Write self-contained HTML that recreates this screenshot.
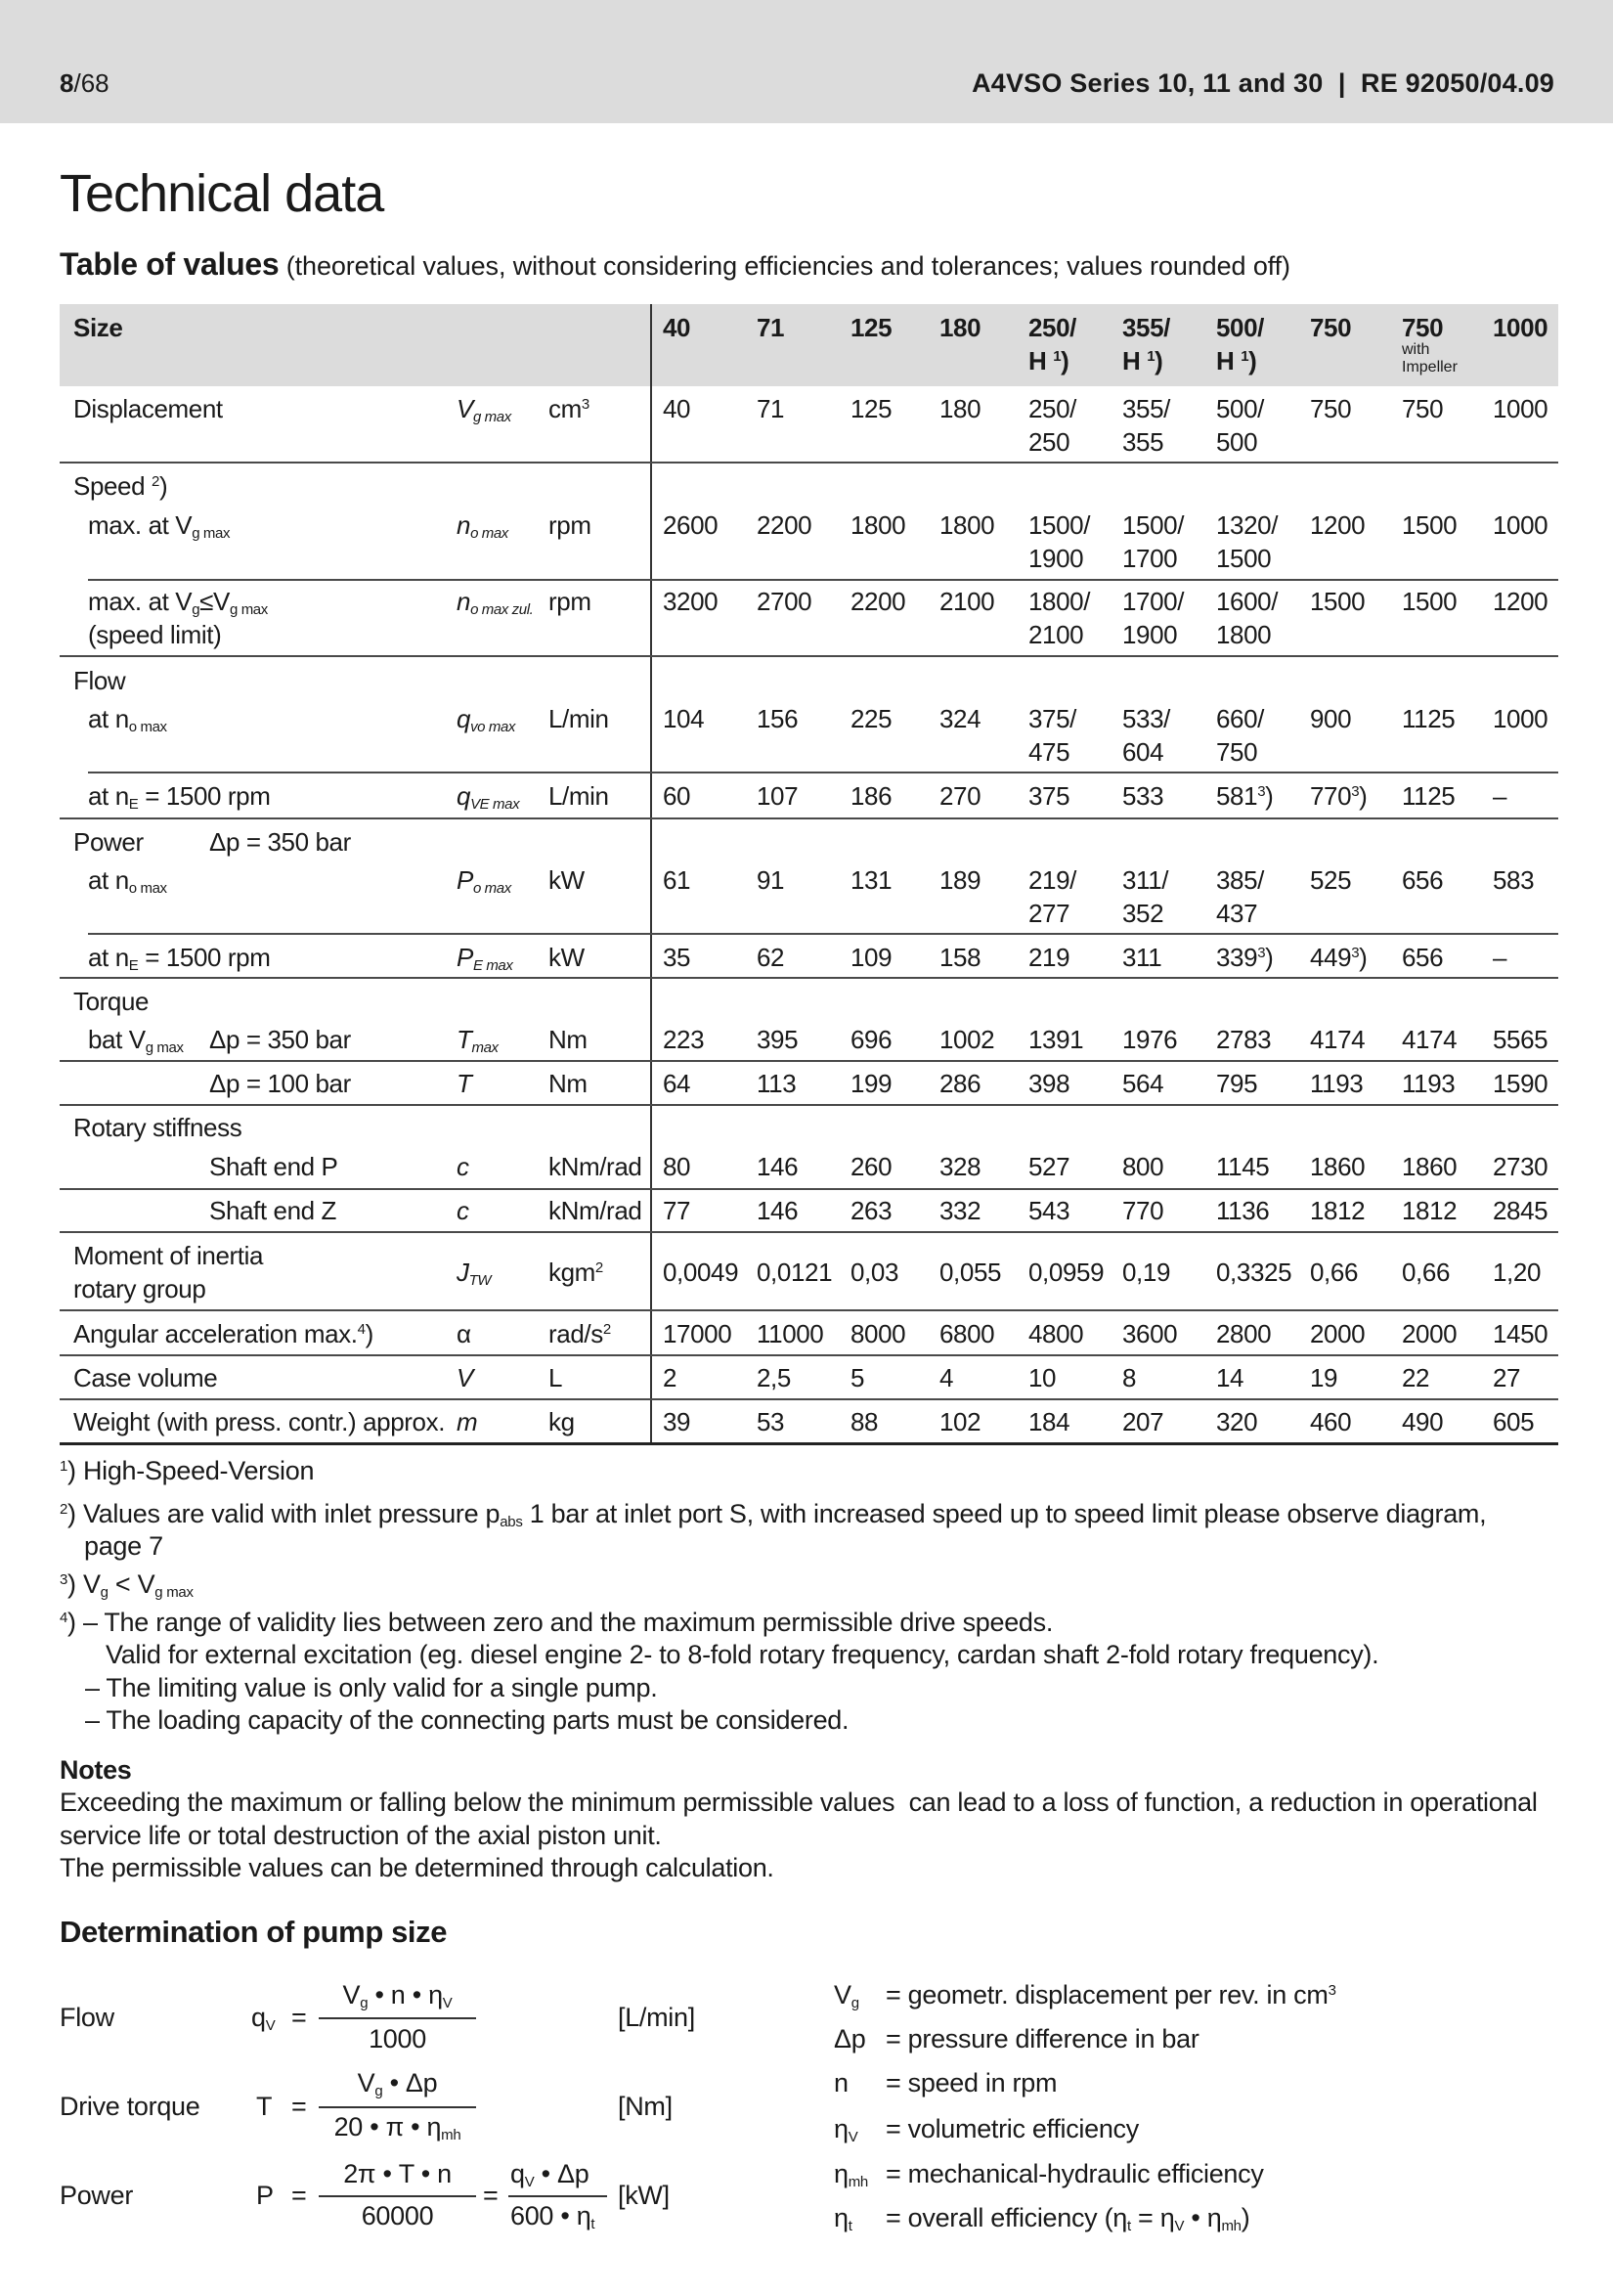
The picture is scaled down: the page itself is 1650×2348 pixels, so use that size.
<!DOCTYPE html>
<html><head><meta charset="utf-8"><style>
html,body{margin:0;padding:0}
body{width:1650px;height:2348px;position:relative;background:#fff;font-family:"Liberation Sans",sans-serif;color:#1a1a1a;overflow:hidden}
.t{position:absolute;white-space:nowrap;font-size:26px;line-height:34px;letter-spacing:-0.4px}
.p{font-size:27px;letter-spacing:-0.3px}
.b{font-weight:bold}
.i{font-style:italic}
sub{font-size:15px;vertical-align:-4px;line-height:0}
sup{font-size:15px;vertical-align:9px;line-height:0}
.r{position:absolute;height:2px;background:#4a4a4a}
.f{position:absolute;height:2px;background:#333}
</style></head><body>
<div style="position:absolute;left:0;top:0;width:1650px;height:126px;background:#dcdcdc"></div>
<div class="t" style="left:61px;top:68px;font-size:26px;letter-spacing:0"><b>8</b>/68</div>
<div class="t b" style="right:60px;top:68px;font-size:27px;letter-spacing:0.2px">A4VSO Series 10, 11 and 30&nbsp; |&nbsp; RE 92050/04.09</div>
<div class="t" style="left:61px;top:168px;font-size:54px;line-height:60px;letter-spacing:-1px">Technical data</div>
<div class="t" style="left:61px;top:253px;font-size:27px;letter-spacing:-0.1px"><b style="font-size:32px;letter-spacing:-0.3px">Table of values</b> (theoretical values, without considering efficiencies and tolerances; values rounded off)</div>

<div style="position:absolute;left:61px;top:311px;width:1533px;height:84px;background:#dcdcdc"></div>
<div style="position:absolute;left:665px;top:311px;width:2px;height:1165px;background:#333"></div>

<!-- header -->
<div class="t b" style="left:75px;top:318px">Size</div>
<div class="t b" style="left:678px;top:318px">40</div>
<div class="t b" style="left:774px;top:318px">71</div>
<div class="t b" style="left:870px;top:318px">125</div>
<div class="t b" style="left:961px;top:318px">180</div>
<div class="t b" style="left:1052px;top:318px">250/<br>H <sup>1</sup>)</div>
<div class="t b" style="left:1148px;top:318px">355/<br>H <sup>1</sup>)</div>
<div class="t b" style="left:1244px;top:318px">500/<br>H <sup>1</sup>)</div>
<div class="t b" style="left:1340px;top:318px">750</div>
<div class="t b" style="left:1434px;top:318px">750</div>
<div class="t" style="left:1434px;top:349px;font-size:16px;line-height:18px;letter-spacing:0">with<br>Impeller</div>
<div class="t b" style="left:1527px;top:318px">1000</div>

<!-- Displacement -->
<div class="t" style="left:75px;top:401px">Displacement</div>
<div class="t i" style="left:467px;top:401px">V<sub>g max</sub></div>
<div class="t" style="left:561px;top:401px">cm<sup>3</sup></div>
<div class="t" style="left:678px;top:401px">40</div>
<div class="t" style="left:774px;top:401px">71</div>
<div class="t" style="left:870px;top:401px">125</div>
<div class="t" style="left:961px;top:401px">180</div>
<div class="t" style="left:1052px;top:401px">250/<br>250</div>
<div class="t" style="left:1148px;top:401px">355/<br>355</div>
<div class="t" style="left:1244px;top:401px">500/<br>500</div>
<div class="t" style="left:1340px;top:401px">750</div>
<div class="t" style="left:1434px;top:401px">750</div>
<div class="t" style="left:1527px;top:401px">1000</div>
<div class="r" style="left:61px;top:472px;width:1533px"></div>

<!-- Speed -->
<div class="t" style="left:75px;top:480px">Speed <sup>2</sup>)</div>
<div class="t" style="left:90px;top:520px">max. at V<sub>g max</sub></div>
<div class="t i" style="left:467px;top:520px">n<sub>o max</sub></div>
<div class="t" style="left:561px;top:520px">rpm</div>
<div class="t" style="left:678px;top:520px">2600</div>
<div class="t" style="left:774px;top:520px">2200</div>
<div class="t" style="left:870px;top:520px">1800</div>
<div class="t" style="left:961px;top:520px">1800</div>
<div class="t" style="left:1052px;top:520px">1500/<br>1900</div>
<div class="t" style="left:1148px;top:520px">1500/<br>1700</div>
<div class="t" style="left:1244px;top:520px">1320/<br>1500</div>
<div class="t" style="left:1340px;top:520px">1200</div>
<div class="t" style="left:1434px;top:520px">1500</div>
<div class="t" style="left:1527px;top:520px">1000</div>
<div class="r" style="left:90px;top:592px;width:1504px"></div>
<div class="t" style="left:90px;top:598px">max. at V<sub>g</sub>≤V<sub>g max</sub><br>(speed limit)</div>
<div class="t i" style="left:467px;top:598px">n<sub>o max zul.</sub></div>
<div class="t" style="left:561px;top:598px">rpm</div>
<div class="t" style="left:678px;top:598px">3200</div>
<div class="t" style="left:774px;top:598px">2700</div>
<div class="t" style="left:870px;top:598px">2200</div>
<div class="t" style="left:961px;top:598px">2100</div>
<div class="t" style="left:1052px;top:598px">1800/<br>2100</div>
<div class="t" style="left:1148px;top:598px">1700/<br>1900</div>
<div class="t" style="left:1244px;top:598px">1600/<br>1800</div>
<div class="t" style="left:1340px;top:598px">1500</div>
<div class="t" style="left:1434px;top:598px">1500</div>
<div class="t" style="left:1527px;top:598px">1200</div>
<div class="r" style="left:61px;top:670px;width:1533px"></div>

<!-- Flow -->
<div class="t" style="left:75px;top:679px">Flow</div>
<div class="t" style="left:90px;top:718px">at n<sub>o max</sub></div>
<div class="t i" style="left:467px;top:718px">q<sub>vo max</sub></div>
<div class="t" style="left:561px;top:718px">L/min</div>
<div class="t" style="left:678px;top:718px">104</div>
<div class="t" style="left:774px;top:718px">156</div>
<div class="t" style="left:870px;top:718px">225</div>
<div class="t" style="left:961px;top:718px">324</div>
<div class="t" style="left:1052px;top:718px">375/<br>475</div>
<div class="t" style="left:1148px;top:718px">533/<br>604</div>
<div class="t" style="left:1244px;top:718px">660/<br>750</div>
<div class="t" style="left:1340px;top:718px">900</div>
<div class="t" style="left:1434px;top:718px">1125</div>
<div class="t" style="left:1527px;top:718px">1000</div>
<div class="r" style="left:90px;top:789px;width:1504px"></div>
<div class="t" style="left:90px;top:797px">at n<sub>E</sub> = 1500 rpm</div>
<div class="t i" style="left:467px;top:797px">q<sub>VE max</sub></div>
<div class="t" style="left:561px;top:797px">L/min</div>
<div class="t" style="left:678px;top:797px">60</div>
<div class="t" style="left:774px;top:797px">107</div>
<div class="t" style="left:870px;top:797px">186</div>
<div class="t" style="left:961px;top:797px">270</div>
<div class="t" style="left:1052px;top:797px">375</div>
<div class="t" style="left:1148px;top:797px">533</div>
<div class="t" style="left:1244px;top:797px">581<sup>3</sup>)</div>
<div class="t" style="left:1340px;top:797px">770<sup>3</sup>)</div>
<div class="t" style="left:1434px;top:797px">1125</div>
<div class="t" style="left:1527px;top:797px">–</div>
<div class="r" style="left:61px;top:836px;width:1533px"></div>

<!-- Power -->
<div class="t" style="left:75px;top:844px">Power</div>
<div class="t" style="left:214px;top:844px">Δp = 350 bar</div>
<div class="t" style="left:90px;top:883px">at n<sub>o max</sub></div>
<div class="t i" style="left:467px;top:883px">P<sub>o max</sub></div>
<div class="t" style="left:561px;top:883px">kW</div>
<div class="t" style="left:678px;top:883px">61</div>
<div class="t" style="left:774px;top:883px">91</div>
<div class="t" style="left:870px;top:883px">131</div>
<div class="t" style="left:961px;top:883px">189</div>
<div class="t" style="left:1052px;top:883px">219/<br>277</div>
<div class="t" style="left:1148px;top:883px">311/<br>352</div>
<div class="t" style="left:1244px;top:883px">385/<br>437</div>
<div class="t" style="left:1340px;top:883px">525</div>
<div class="t" style="left:1434px;top:883px">656</div>
<div class="t" style="left:1527px;top:883px">583</div>
<div class="r" style="left:90px;top:954px;width:1504px"></div>
<div class="t" style="left:90px;top:962px">at n<sub>E</sub> = 1500 rpm</div>
<div class="t i" style="left:467px;top:962px">P<sub>E max</sub></div>
<div class="t" style="left:561px;top:962px">kW</div>
<div class="t" style="left:678px;top:962px">35</div>
<div class="t" style="left:774px;top:962px">62</div>
<div class="t" style="left:870px;top:962px">109</div>
<div class="t" style="left:961px;top:962px">158</div>
<div class="t" style="left:1052px;top:962px">219</div>
<div class="t" style="left:1148px;top:962px">311</div>
<div class="t" style="left:1244px;top:962px">339<sup>3</sup>)</div>
<div class="t" style="left:1340px;top:962px">449<sup>3</sup>)</div>
<div class="t" style="left:1434px;top:962px">656</div>
<div class="t" style="left:1527px;top:962px">–</div>
<div class="r" style="left:61px;top:999px;width:1533px"></div>

<!-- Torque -->
<div class="t" style="left:75px;top:1007px">Torque</div>
<div class="t" style="left:90px;top:1046px">bat V<sub>g max</sub></div>
<div class="t" style="left:214px;top:1046px">Δp = 350 bar</div>
<div class="t i" style="left:467px;top:1046px">T<sub>max</sub></div>
<div class="t" style="left:561px;top:1046px">Nm</div>
<div class="t" style="left:678px;top:1046px">223</div>
<div class="t" style="left:774px;top:1046px">395</div>
<div class="t" style="left:870px;top:1046px">696</div>
<div class="t" style="left:961px;top:1046px">1002</div>
<div class="t" style="left:1052px;top:1046px">1391</div>
<div class="t" style="left:1148px;top:1046px">1976</div>
<div class="t" style="left:1244px;top:1046px">2783</div>
<div class="t" style="left:1340px;top:1046px">4174</div>
<div class="t" style="left:1434px;top:1046px">4174</div>
<div class="t" style="left:1527px;top:1046px">5565</div>
<div class="r" style="left:61px;top:1084px;width:1533px"></div>
<div class="t" style="left:214px;top:1091px">Δp = 100 bar</div>
<div class="t i" style="left:467px;top:1091px">T</div>
<div class="t" style="left:561px;top:1091px">Nm</div>
<div class="t" style="left:678px;top:1091px">64</div>
<div class="t" style="left:774px;top:1091px">113</div>
<div class="t" style="left:870px;top:1091px">199</div>
<div class="t" style="left:961px;top:1091px">286</div>
<div class="t" style="left:1052px;top:1091px">398</div>
<div class="t" style="left:1148px;top:1091px">564</div>
<div class="t" style="left:1244px;top:1091px">795</div>
<div class="t" style="left:1340px;top:1091px">1193</div>
<div class="t" style="left:1434px;top:1091px">1193</div>
<div class="t" style="left:1527px;top:1091px">1590</div>
<div class="r" style="left:61px;top:1129px;width:1533px"></div>

<!-- Rotary stiffness -->
<div class="t" style="left:75px;top:1136px">Rotary stiffness</div>
<div class="t" style="left:214px;top:1176px">Shaft end P</div>
<div class="t i" style="left:467px;top:1176px">c</div>
<div class="t" style="left:561px;top:1176px">kNm/rad</div>
<div class="t" style="left:678px;top:1176px">80</div>
<div class="t" style="left:774px;top:1176px">146</div>
<div class="t" style="left:870px;top:1176px">260</div>
<div class="t" style="left:961px;top:1176px">328</div>
<div class="t" style="left:1052px;top:1176px">527</div>
<div class="t" style="left:1148px;top:1176px">800</div>
<div class="t" style="left:1244px;top:1176px">1145</div>
<div class="t" style="left:1340px;top:1176px">1860</div>
<div class="t" style="left:1434px;top:1176px">1860</div>
<div class="t" style="left:1527px;top:1176px">2730</div>
<div class="r" style="left:61px;top:1215px;width:1533px"></div>
<div class="t" style="left:214px;top:1221px">Shaft end Z</div>
<div class="t i" style="left:467px;top:1221px">c</div>
<div class="t" style="left:561px;top:1221px">kNm/rad</div>
<div class="t" style="left:678px;top:1221px">77</div>
<div class="t" style="left:774px;top:1221px">146</div>
<div class="t" style="left:870px;top:1221px">263</div>
<div class="t" style="left:961px;top:1221px">332</div>
<div class="t" style="left:1052px;top:1221px">543</div>
<div class="t" style="left:1148px;top:1221px">770</div>
<div class="t" style="left:1244px;top:1221px">1136</div>
<div class="t" style="left:1340px;top:1221px">1812</div>
<div class="t" style="left:1434px;top:1221px">1812</div>
<div class="t" style="left:1527px;top:1221px">2845</div>
<div class="r" style="left:61px;top:1259px;width:1533px"></div>

<!-- Moment of inertia -->
<div class="t" style="left:75px;top:1267px">Moment of inertia<br>rotary group</div>
<div class="t i" style="left:467px;top:1284px">J<sub>TW</sub></div>
<div class="t" style="left:561px;top:1284px">kgm<sup>2</sup></div>
<div class="t" style="left:678px;top:1284px">0,0049</div>
<div class="t" style="left:774px;top:1284px">0,0121</div>
<div class="t" style="left:870px;top:1284px">0,03</div>
<div class="t" style="left:961px;top:1284px">0,055</div>
<div class="t" style="left:1052px;top:1284px">0,0959</div>
<div class="t" style="left:1148px;top:1284px">0,19</div>
<div class="t" style="left:1244px;top:1284px">0,3325</div>
<div class="t" style="left:1340px;top:1284px">0,66</div>
<div class="t" style="left:1434px;top:1284px">0,66</div>
<div class="t" style="left:1527px;top:1284px">1,20</div>
<div class="r" style="left:61px;top:1339px;width:1533px"></div>

<div class="t" style="left:75px;top:1347px">Angular acceleration max.<sup>4</sup>)</div>
<div class="t" style="left:467px;top:1347px">α</div>
<div class="t" style="left:561px;top:1347px">rad/s<sup>2</sup></div>
<div class="t" style="left:678px;top:1347px">17000</div>
<div class="t" style="left:774px;top:1347px">11000</div>
<div class="t" style="left:870px;top:1347px">8000</div>
<div class="t" style="left:961px;top:1347px">6800</div>
<div class="t" style="left:1052px;top:1347px">4800</div>
<div class="t" style="left:1148px;top:1347px">3600</div>
<div class="t" style="left:1244px;top:1347px">2800</div>
<div class="t" style="left:1340px;top:1347px">2000</div>
<div class="t" style="left:1434px;top:1347px">2000</div>
<div class="t" style="left:1527px;top:1347px">1450</div>
<div class="r" style="left:61px;top:1385px;width:1533px"></div>

<div class="t" style="left:75px;top:1392px">Case volume</div>
<div class="t i" style="left:467px;top:1392px">V</div>
<div class="t" style="left:561px;top:1392px">L</div>
<div class="t" style="left:678px;top:1392px">2</div>
<div class="t" style="left:774px;top:1392px">2,5</div>
<div class="t" style="left:870px;top:1392px">5</div>
<div class="t" style="left:961px;top:1392px">4</div>
<div class="t" style="left:1052px;top:1392px">10</div>
<div class="t" style="left:1148px;top:1392px">8</div>
<div class="t" style="left:1244px;top:1392px">14</div>
<div class="t" style="left:1340px;top:1392px">19</div>
<div class="t" style="left:1434px;top:1392px">22</div>
<div class="t" style="left:1527px;top:1392px">27</div>
<div class="r" style="left:61px;top:1430px;width:1533px"></div>

<div class="t" style="left:75px;top:1437px">Weight (with press. contr.) approx.</div>
<div class="t i" style="left:467px;top:1437px">m</div>
<div class="t" style="left:561px;top:1437px">kg</div>
<div class="t" style="left:678px;top:1437px">39</div>
<div class="t" style="left:774px;top:1437px">53</div>
<div class="t" style="left:870px;top:1437px">88</div>
<div class="t" style="left:961px;top:1437px">102</div>
<div class="t" style="left:1052px;top:1437px">184</div>
<div class="t" style="left:1148px;top:1437px">207</div>
<div class="t" style="left:1244px;top:1437px">320</div>
<div class="t" style="left:1340px;top:1437px">460</div>
<div class="t" style="left:1434px;top:1437px">490</div>
<div class="t" style="left:1527px;top:1437px">605</div>
<div class="r" style="left:61px;top:1475px;width:1533px;height:3px;background:#222"></div>

<!-- footnotes -->
<div class="t p" style="left:61px;top:1487px"><sup>1</sup>) High-Speed-Version</div>
<div class="t p" style="left:61px;top:1531px"><sup>2</sup>) Values are valid with inlet pressure p<sub>abs</sub> 1 bar at inlet port S, with increased speed up to speed limit please observe diagram,</div>
<div class="t p" style="left:86px;top:1564px">page 7</div>
<div class="t p" style="left:61px;top:1603px"><sup>3</sup>) V<sub>g</sub> &lt; V<sub>g max</sub></div>
<div class="t p" style="left:61px;top:1642px"><sup>4</sup>) – The range of validity lies between zero and the maximum permissible drive speeds.</div>
<div class="t p" style="left:108px;top:1675px">Valid for external excitation (eg. diesel engine 2- to 8-fold rotary frequency, cardan shaft 2-fold rotary frequency).</div>
<div class="t p" style="left:87px;top:1709px">– The limiting value is only valid for a single pump.</div>
<div class="t p" style="left:87px;top:1742px">– The loading capacity of the connecting parts must be considered.</div>
<div class="t b p" style="left:61px;top:1793px">Notes</div>
<div class="t p" style="left:61px;top:1826px">Exceeding the maximum or falling below the minimum permissible values&nbsp; can lead to a loss of function, a reduction in operational</div>
<div class="t p" style="left:61px;top:1860px">service life or total destruction of the axial piston unit.</div>
<div class="t p" style="left:61px;top:1893px">The permissible values can be determined through calculation.</div>

<div class="t b" style="left:61px;top:1957px;font-size:31px;line-height:38px">Determination of pump size</div>

<!-- formulas -->
<div class="t p" style="left:61px;top:2046px">Flow</div>
<div class="t p" style="left:257px;top:2046px">q<sub>V</sub></div>
<div class="t p" style="left:298px;top:2046px">=</div>
<div class="t p" style="left:326px;top:2023px;width:161px;text-align:center">V<sub>g</sub> • n • η<sub>V</sub></div>
<div class="f" style="left:326px;top:2063px;width:161px"></div>
<div class="t p" style="left:326px;top:2068px;width:161px;text-align:center">1000</div>
<div class="t p" style="left:632px;top:2046px">[L/min]</div>

<div class="t p" style="left:61px;top:2137px">Drive torque</div>
<div class="t p" style="left:262px;top:2137px">T</div>
<div class="t p" style="left:298px;top:2137px">=</div>
<div class="t p" style="left:326px;top:2113px;width:161px;text-align:center">V<sub>g</sub> • Δp</div>
<div class="f" style="left:326px;top:2154px;width:161px"></div>
<div class="t p" style="left:326px;top:2158px;width:161px;text-align:center">20 • π • η<sub>mh</sub></div>
<div class="t p" style="left:632px;top:2137px">[Nm]</div>

<div class="t p" style="left:61px;top:2228px">Power</div>
<div class="t p" style="left:262px;top:2228px">P</div>
<div class="t p" style="left:298px;top:2228px">=</div>
<div class="t p" style="left:326px;top:2206px;width:161px;text-align:center">2π • T • n</div>
<div class="f" style="left:326px;top:2245px;width:161px"></div>
<div class="t p" style="left:326px;top:2249px;width:161px;text-align:center">60000</div>
<div class="t p" style="left:494px;top:2228px">=</div>
<div class="t p" style="left:522px;top:2206px">q<sub>V</sub> • Δp</div>
<div class="f" style="left:520px;top:2245px;width:101px"></div>
<div class="t p" style="left:522px;top:2249px">600 • η<sub>t</sub></div>
<div class="t p" style="left:632px;top:2228px">[kW]</div>

<div class="t p" style="left:853px;top:2023px">V<sub>g</sub></div>
<div class="t p" style="left:906px;top:2023px">= geometr. displacement per rev. in cm<sup>3</sup></div>
<div class="t p" style="left:853px;top:2068px">Δp</div>
<div class="t p" style="left:906px;top:2068px">= pressure difference in bar</div>
<div class="t p" style="left:853px;top:2113px">n</div>
<div class="t p" style="left:906px;top:2113px">= speed in rpm</div>
<div class="t p" style="left:853px;top:2160px">η<sub>V</sub></div>
<div class="t p" style="left:906px;top:2160px">= volumetric efficiency</div>
<div class="t p" style="left:853px;top:2206px">η<sub>mh</sub></div>
<div class="t p" style="left:906px;top:2206px">= mechanical-hydraulic efficiency</div>
<div class="t p" style="left:853px;top:2251px">η<sub>t</sub></div>
<div class="t p" style="left:906px;top:2251px">= overall efficiency (η<sub>t</sub> = η<sub>V</sub> • η<sub>mh</sub>)</div>
</body></html>
